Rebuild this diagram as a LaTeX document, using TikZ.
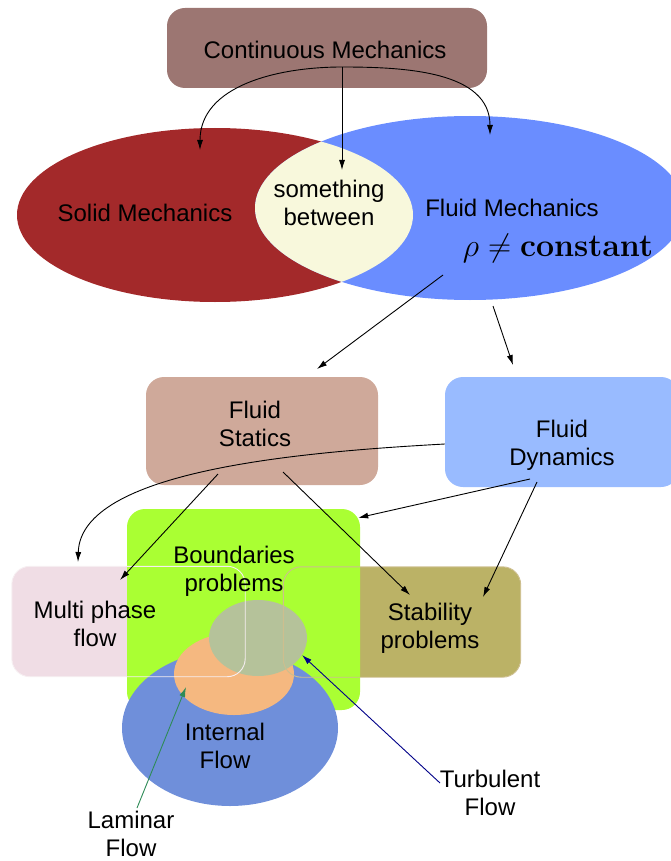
\documentclass[tikz,border=0pt]{standalone}
\usepackage[no-math]{fontspec}
\newfontfamily\lsans{Liberation Sans}
\usetikzlibrary{arrows.meta,calc,shapes.geometric}
\definecolor{cmcol}{HTML}{9C7672}
\definecolor{solidcol}{HTML}{A3292A}
\definecolor{fluidcol}{HTML}{6A8DFF}
\definecolor{lenscol}{HTML}{F8F8DC}
\definecolor{fscol}{HTML}{CFA99A}
\definecolor{fdcol}{HTML}{99BBFF}
\definecolor{bpcol}{HTML}{AAFF33}
\definecolor{mpcol}{HTML}{F0DDE5}
\definecolor{mpline}{HTML}{F6EEF1}
\definecolor{spcol}{HTML}{BBB266}
\definecolor{spline}{HTML}{CDBE8E}
\definecolor{ifcol}{HTML}{6F8FDA}
\definecolor{lamcol}{HTML}{F5B880}
\definecolor{turbcol}{HTML}{B5C29A}
\definecolor{lamarrow}{HTML}{2E8B57}
\definecolor{turbarrow}{HTML}{000088}
\begin{document}
\begin{tikzpicture}[x=1pt,y=1pt,
  txt/.style={font=\lsans\fontsize{24}{28}\selectfont, align=center, inner sep=0pt},
  boxshape/.style={rectangle, rounded corners=18pt, draw=none, inner sep=0pt},
  ell/.style={ellipse, draw=none, inner sep=0pt},
  arr/.style={-{Latex[length=10pt,width=6pt]}, line width=0.9pt},
]
\useasboundingbox (0,0) rectangle (670,-861);

% ---------- top part
\node[boxshape, fill=cmcol, minimum width=320pt, minimum height=80pt] (cm) at (327,-48) {};
\node[ell, fill=solidcol, minimum width=396pt, minimum height=174pt] (solid) at (215,-215) {};
\node[ell, fill=fluidcol, minimum width=430pt, minimum height=184pt] (fluid) at (470,-208) {};
\begin{scope}
  \clip (solid.center) ellipse [x radius=198pt, y radius=87pt];
  \fill[lenscol] (fluid.center) ellipse [x radius=215pt, y radius=92pt];
\end{scope}

\node[txt] (cmt) at (325,-50) {Continuous Mechanics};
\node[txt] (solidt) at (145,-213) {Solid Mechanics};
\node[txt] (betw) at (329,-203) {something\\between};
\node[txt] (fluidt) at (512,-208) {Fluid Mechanics};
\node[inner sep=0pt, font=\Huge, scale=1.29] (rho) at (558,-248) {$\rho \neq \mathbf{constant}$};

\coordinate (cmo) at ($(cm.center)+(15,-19)$);
\draw[arr] (cmo) to[out=180,in=90] ($(solid.center)+(-15,65)$);
\draw[arr] (cmo) -- ($(betw.center)+(13,33)$);
\draw[arr] (cmo) to[out=0,in=90] ($(fluid.center)+(20,73)$);

% ---------- middle boxes
\node[boxshape, fill=fscol, minimum width=232pt, minimum height=108pt] (fs) at (262,-431) {};
\node[boxshape, fill=fdcol, minimum width=234pt, minimum height=110pt] (fd) at (562,-432) {};
\node[txt] (fst) at (255,-424) {Fluid\\Statics};
\node[txt] (fdt) at (562,-445) {Fluid\\Dynamics};

\draw[arr] ($(fluid.center)+(-27,-67)$) -- ($(fs.center)+(55,62)$);
\draw[arr] ($(fluid.center)+(23,-98)$) -- ($(fd.center)+(-49,67)$);

% ---------- lower part
\node[boxshape, fill=mpcol, minimum width=233pt, minimum height=110pt] (mp) at (128.5,-621.5) {};
\node[boxshape, fill=spcol, minimum width=237pt, minimum height=110pt] (sp) at (402,-622) {};
\node[boxshape, fill=bpcol, minimum width=233pt, minimum height=201pt] (bp) at (243.5,-609.5) {};
\node[ell, fill=ifcol, minimum width=216pt, minimum height=156pt] (ifl) at (230,-728) {};
\node[ell, fill=lamcol, minimum width=120pt, minimum height=82pt] (lam) at (234,-674) {};
\node[ell, fill=turbcol, minimum width=98pt, minimum height=76pt] (turb) at (258,-638) {};
\draw[mpline, line width=0.9pt, rounded corners=18pt] (mp.south west) rectangle (mp.north east);
\draw[spline, line width=0.9pt, rounded corners=18pt] (sp.south west) rectangle (sp.north east);

\node[txt] (bpt) at (234,-571) {Boundaries\\problems};
\node[txt] (mpt) at (95,-624) {Multi phase\\flow};
\node[txt] (spt) at (430,-628) {Stability\\problems};
\node[txt] (iflt) at (225,-746) {Internal\\Flow};
\node[txt] (lamt) at (131,-834) {Laminar\\Flow};
\node[txt] (turbt) at (490,-793) {Turbulent\\Flow};

\draw[arr] ($(fd.west)+(0,-12)$) .. controls ($(fd.west)+(-145,-20)$) and ($(mp.center)+(-48,151)$) .. ($(mp.center)+(-50.5,59.5)$);
\draw[arr] ($(fs.center)+(-44,-43)$) -- ($(mp.center)+(-8.5,41.5)$);
\draw[arr] ($(fs.center)+(21,-41)$) -- ($(sp.center)+(8,27)$);
\draw[arr] ($(fd.center)+(-32,-47)$) -- ($(bp.north east)+(-2,-9)$);
\draw[arr] ($(fd.center)+(-25,-50)$) -- ($(sp.center)+(81,25)$);

\draw[-{Latex[length=10pt,width=6pt]}, line width=0.9pt, lamarrow] ($(lamt.center)+(6,26)$) -- ($(lam.center)+(-48,-13)$);
\draw[-{Latex[length=10pt,width=6pt]}, line width=0.9pt, turbarrow] ($(turbt.center)+(-50,10)$) -- ($(turb.center)+(44,-17)$);
\end{tikzpicture}
\end{document}
